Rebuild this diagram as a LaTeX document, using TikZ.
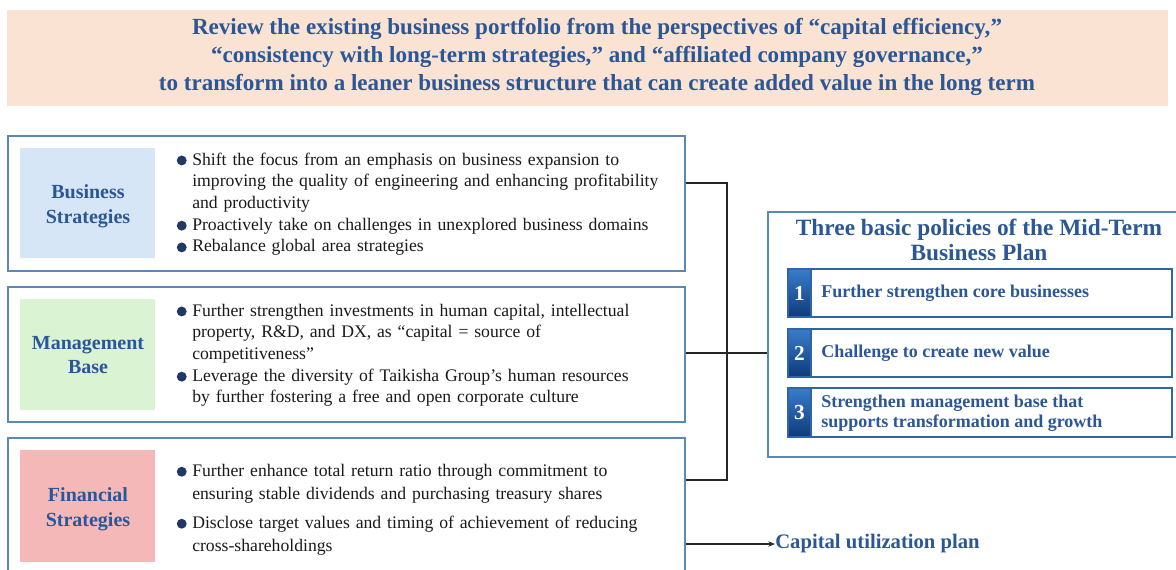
\documentclass[tikz,border=0pt]{standalone}
\usepackage{fontspec}
\setmainfont{Liberation Serif}
\usetikzlibrary{arrows.meta,fit}
\definecolor{bannerbg}{HTML}{FBE3D3}
\definecolor{ttlblue}{HTML}{2B5797}
\definecolor{boxline}{HTML}{5B88B5}
\definecolor{lblblue}{HTML}{D6E6F6}
\definecolor{lblgreen}{HTML}{DAF3D2}
\definecolor{lblpink}{HTML}{F4B8B8}
\definecolor{bodytxt}{HTML}{1A1A1A}
\definecolor{bulc}{HTML}{1F3864}
\definecolor{itemline}{HTML}{2E64A8}
\definecolor{numtop}{HTML}{3A7CCB}
\definecolor{numbot}{HTML}{0E3A7A}
\newcommand{\bitem}{\par\noindent\llap{\tikz[baseline={(0,-3.4pt)}]\fill[bulc] (0,0) circle[radius=3.7pt];\hspace{4.2pt}}}
\tikzset{
  x=0.75pt, y=-0.75pt,
  outerbox/.style={draw=boxline, line width=0.8pt, fill=white, inner sep=0pt},
  lbl/.style={font=\bfseries\fontsize{15}{18.5}\selectfont, text=ttlblue, align=center},
  body/.style={anchor=north west, inner sep=0pt, text=bodytxt, font=\fontsize{13.25}{16.3}\selectfont, text width=380pt, align=left},
  conn/.style={draw=black!85, line width=0.8pt},
  itemline/.style={draw=itemline, line width=1.6pt},
  itemtxt/.style={anchor=west, inner sep=0pt, text=ttlblue, font=\bfseries\fontsize{13.5}{15}\selectfont, align=left},
  numtxt/.style={text=white, font=\bfseries\fontsize{16}{16}\selectfont},
}
\begin{document}
\begin{tikzpicture}
\useasboundingbox (0,0) rectangle (1176,569);
% banner
\fill[bannerbg] (7,10) rectangle (1168,106);
\node[text=ttlblue, font=\bfseries\fontsize{17.3}{21.2}\selectfont, align=center] (banner) at (597,57)
  {Review the existing business portfolio from the perspectives of “capital efficiency,”\\
   “consistency with long-term strategies,” and “affiliated company governance,”\\
   to transform into a leaner business structure that can create added value in the long term};
% box 1
\node[outerbox, fit={(8,136) (685,271)}] (box1) {};
\fill[lblblue] (20,148) rectangle (155,258);
\node[lbl] (l1) at (88,206) {Business\\Strategies};
\node[body] (t1) at (192,143) {\bitem Shift the focus from an emphasis on business expansion to\\ improving the quality of engineering and enhancing profitability\\ and productivity
\bitem Proactively take on challenges in unexplored business domains
\bitem Rebalance global area strategies};
% box 2
\node[outerbox, fit={(8,287) (685,422)}] (box2) {};
\fill[lblgreen] (20,299) rectangle (155,410);
\node[lbl] (l2) at (88,355) {Management\\Base};
\node[body] (t2) at (192,294) {\bitem Further strengthen investments in human capital, intellectual\\ property, R\&D, and DX, as “capital = source of\\ competitiveness”
\bitem Leverage the diversity of Taikisha Group’s human resources\\ by further fostering a free and open corporate culture};
% box 3
\node[outerbox, fit={(8,438) (685,575)}] (box3) {};
\fill[lblpink] (20,450) rectangle (155,562);
\node[lbl] (l3) at (88,509) {Financial\\Strategies};
\node[body, font=\fontsize{13.25}{17.25}\selectfont] (t3) at (192,453) {\bitem Further enhance total return ratio through commitment to\\ ensuring stable dividends and purchasing treasury shares
\par\vspace{4.5pt}
\bitem Disclose target values and timing of achievement of reducing\\ cross-shareholdings};
% right box
\node[outerbox, fit={(768,212) (1180,457)}] (rbox) {};
\node[text=ttlblue, font=\bfseries\fontsize{17.5}{19}\selectfont, align=center] (rtitle) at (979,240)
  {Three basic policies of the Mid-Term\\Business Plan};
% items
\foreach \n/\ya/\yb in {1/269/317, 2/329/377, 3/388/437}{
  \fill[white] (788,\ya) rectangle (1172,\yb);
  \shade[top color=numtop, bottom color=numbot] (788,\ya) rectangle (811,\yb);
  \draw[itemline] (788,\ya) rectangle (1172,\yb);
  \draw[itemline] (811,\ya) -- (811,\yb);
  \node[numtxt] (n\n) at (799.5,{(\ya+\yb)/2}) {\n};
}
\node[itemtxt] (i1) at (821,293) {Further strengthen core businesses};
\node[itemtxt] (i2) at (821,353) {Challenge to create new value};
\node[itemtxt] (i3) at (821,413) {Strengthen management base that\\supports transformation and growth};
% connectors
\coordinate (v1) at (727,183);
\coordinate (v3) at (727,480);
\draw[conn] (box1.east |- v1) -- (v1) -- (v3) -- (box3.east |- v3);
\draw[conn] (box2.east |- 0,353) -- (rbox.west |- 0,353);
\node[anchor=west, inner sep=0pt, text=ttlblue, font=\bfseries\fontsize{15.5}{17}\selectfont] (cap) at (775,544) {Capital utilization plan};
\draw[conn, -{Stealth[length=5pt,width=4pt]}] (box3.east |- cap) -- (cap.west);
\end{tikzpicture}
\end{document}
